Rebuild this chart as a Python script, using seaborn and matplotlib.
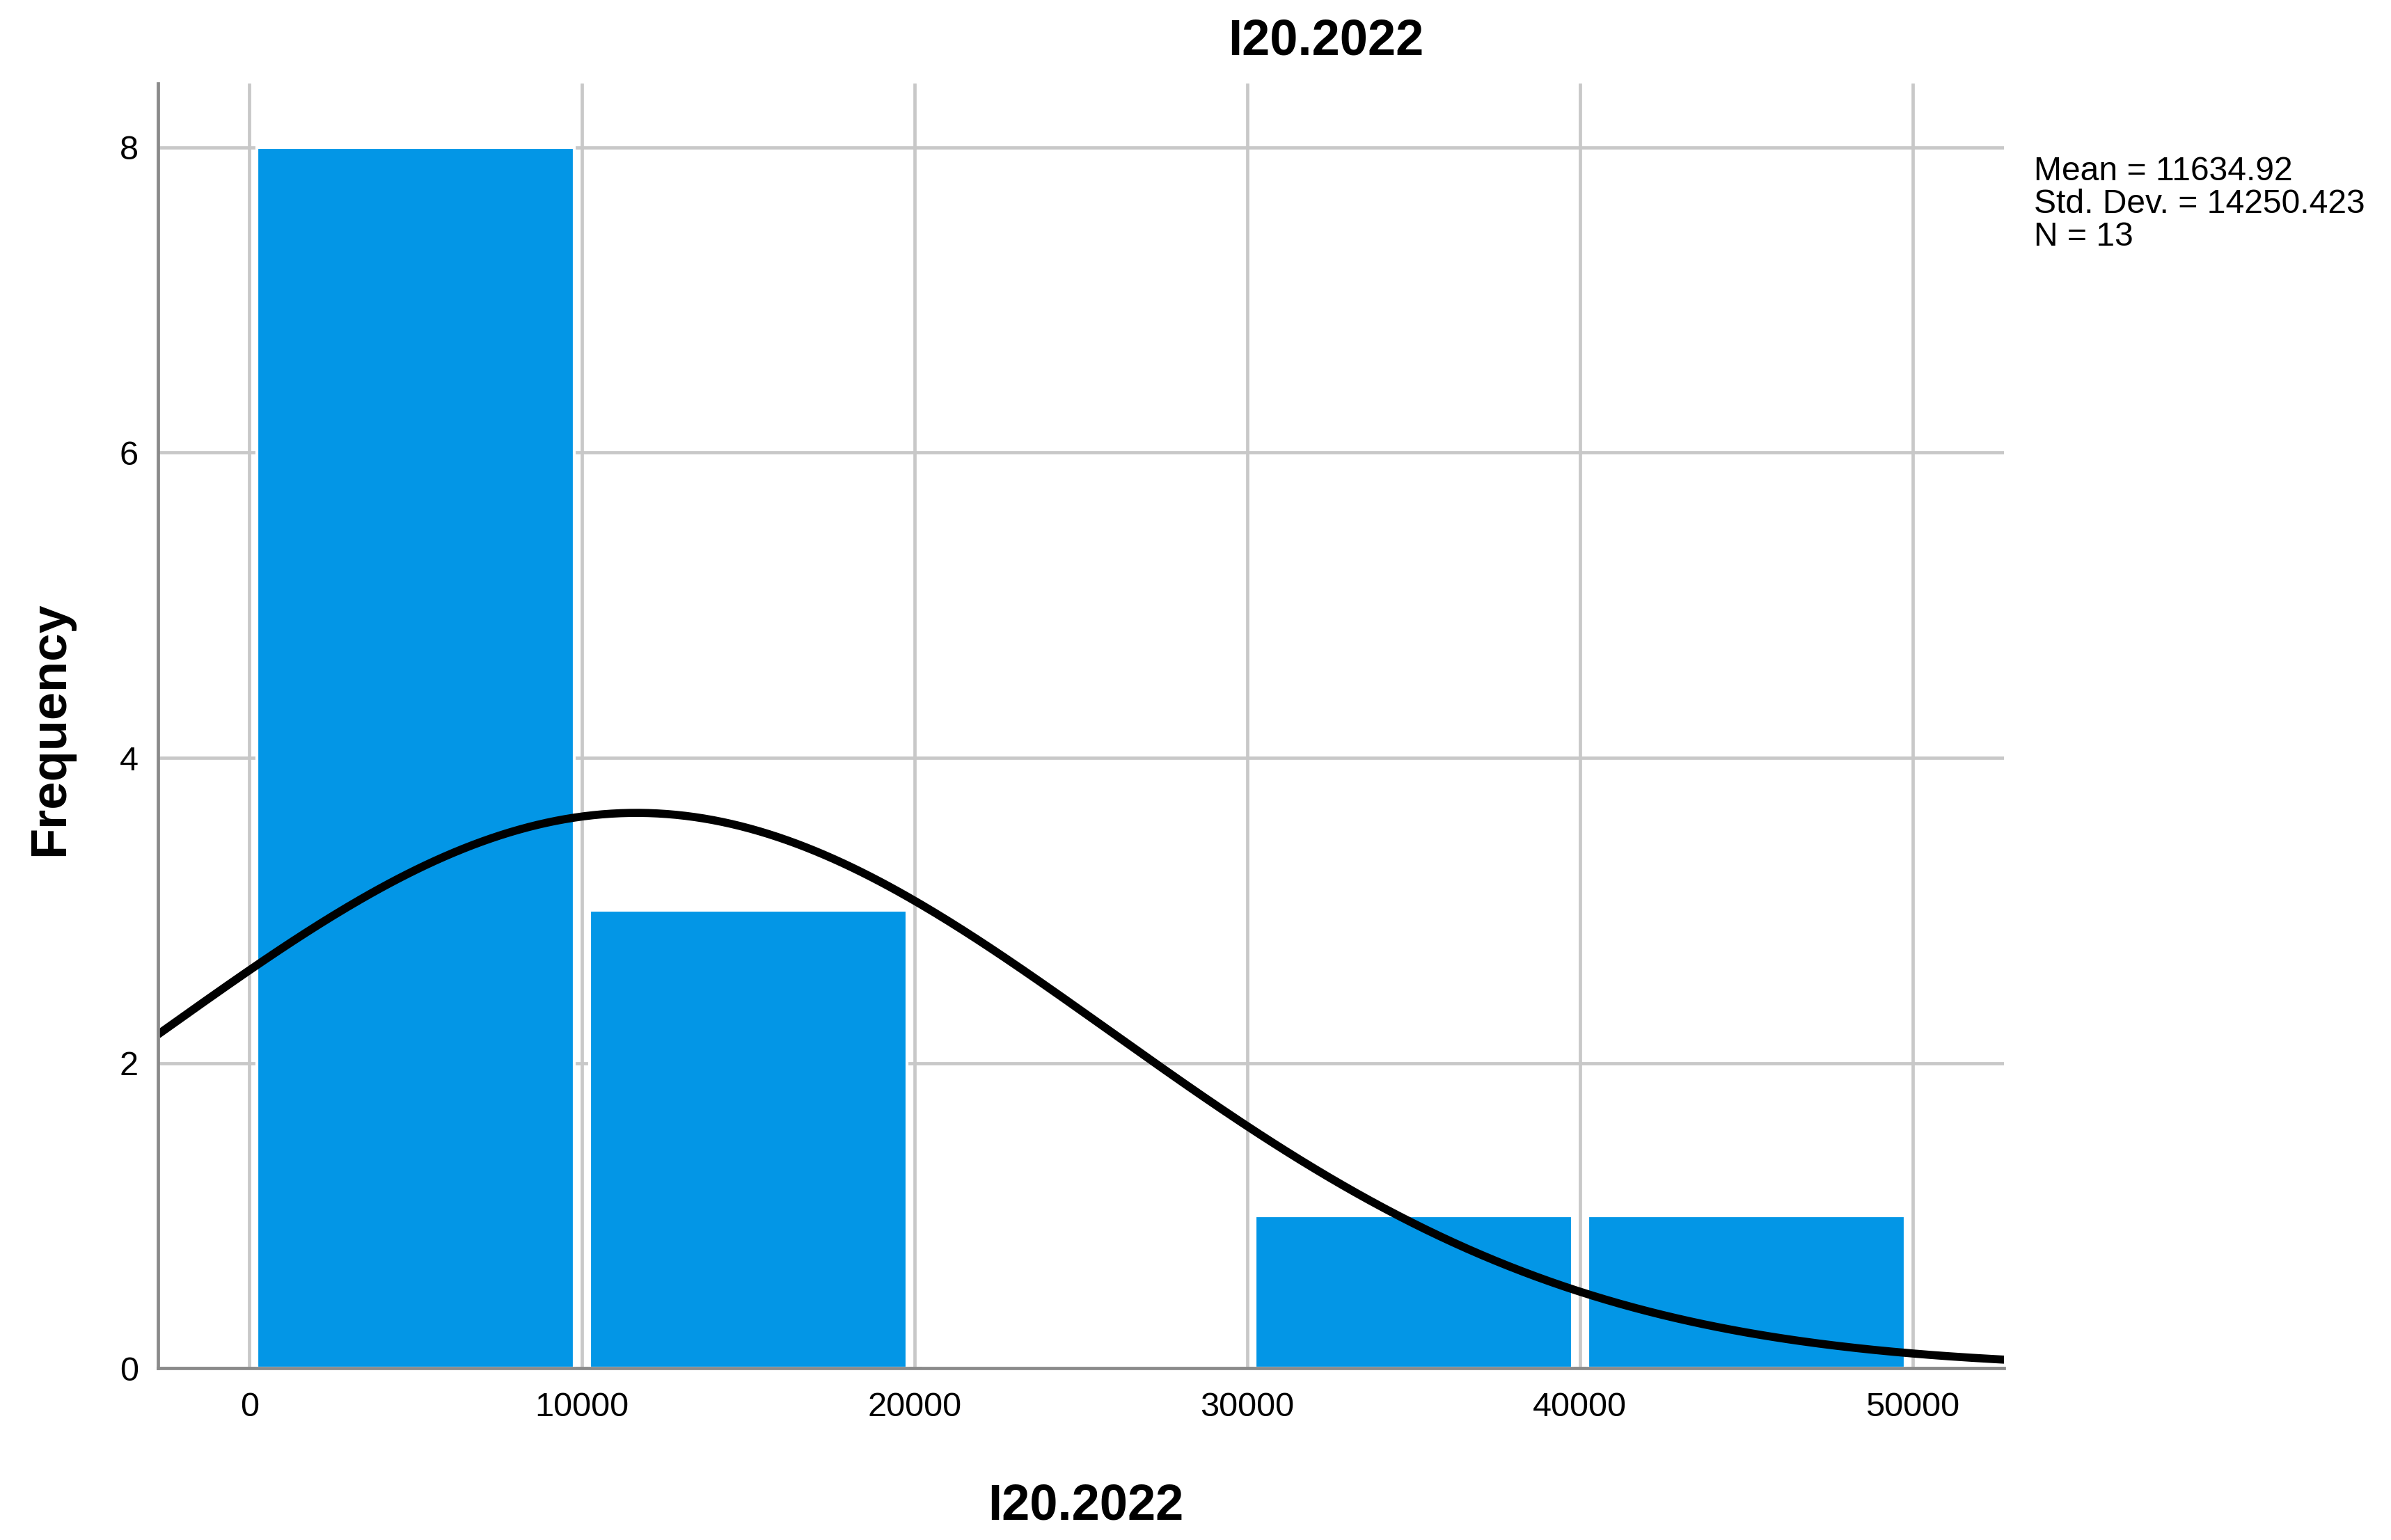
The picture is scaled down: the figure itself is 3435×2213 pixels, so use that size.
import numpy as np
import pandas as pd
import seaborn as sns
import matplotlib.pyplot as plt

# histogram bins
bin_edges = [0, 10000, 20000, 30000, 40000, 50000]
bin_counts = [8, 3, 0, 1, 1]

# stats printed by SPSS
mean_val = 11634.92
sd_val = 14250.423
n_val = 13

x_ticks = [0, 10000, 20000, 30000, 40000, 50000]
y_ticks = [0, 2, 4, 6, 8]

sns.set_style("white")
plt.rcParams['font.family'] = ['Liberation Sans', 'DejaVu Sans']
plt.rcParams['text.color'] = 'black'
plt.rcParams['xtick.color'] = 'black'
plt.rcParams['ytick.color'] = 'black'

fig = plt.figure(figsize=(17.175, 11.065), dpi=200)
ax = fig.add_axes([0.066, 0.1115, 0.7722, 0.8344])

df = pd.DataFrame({
    'center': [(a + b) / 2 for a, b in zip(bin_edges[:-1], bin_edges[1:])],
    'count': bin_counts,
})

ax.grid(True, color='#c8c8c8', linewidth=1.7, zorder=0)
ax.set_axisbelow(True)

sns.histplot(data=df, x='center', weights='count', bins=bin_edges, ax=ax,
             color='#0396e6', alpha=1, edgecolor='white', linewidth=1.5,
             shrink=0.955, zorder=2)

# normal curve scaled to counts (N * bin width * pdf)
bw = bin_edges[1] - bin_edges[0]
xs = np.linspace(-2750, 52750, 400)
ys = n_val * bw * np.exp(-0.5 * ((xs - mean_val) / sd_val) ** 2) / (sd_val * np.sqrt(2 * np.pi))
ax.plot(xs, ys, color='black', linewidth=4.2, zorder=3, solid_capstyle='butt')

ax.set_xlim(-2750, 52750)
ax.set_ylim(0, 8.42)
ax.set_xticks(x_ticks)
ax.set_yticks(y_ticks)
ax.tick_params(axis='both', length=0, labelsize=17.5)
ax.tick_params(axis='x', pad=12)
ax.tick_params(axis='y', pad=10)

for s in ['top', 'right']:
    ax.spines[s].set_visible(False)
for s in ['left', 'bottom']:
    ax.spines[s].set_color('#8a8a8a')
    ax.spines[s].set_linewidth(1.7)
    ax.spines[s].set_zorder(4)

ax.set_xlabel('')
ax.set_ylabel('')
fig.text(0.454, 0.022, 'I20.2022', ha='center', va='center', fontsize=26, fontweight='bold')
fig.text(0.021, 0.527, 'Frequency', ha='center', va='center', rotation=90, fontsize=26, fontweight='bold')
fig.text(0.5545, 0.973, 'I20.2022', ha='center', va='center', fontsize=26, fontweight='bold')

stats_txt = f"Mean = {mean_val}\nStd. Dev. = {sd_val}\nN = {n_val}"
fig.text(0.8506, 0.899, stats_txt, ha='left', va='top', fontsize=17.3, linespacing=1.07)

fig.savefig('out.png', dpi=200, facecolor='white')
